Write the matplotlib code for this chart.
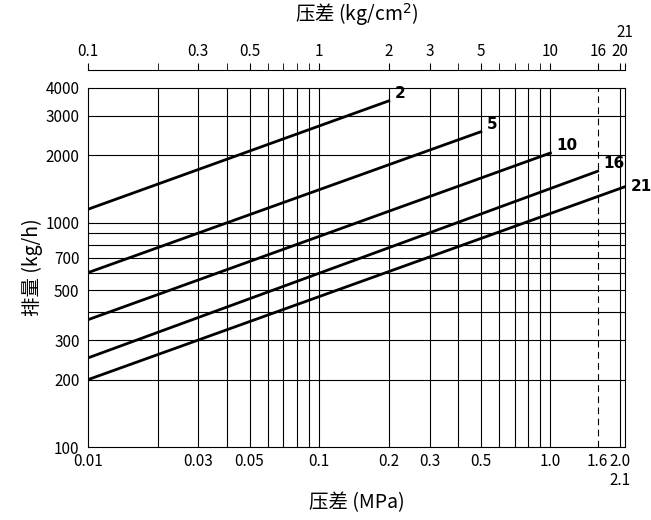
import numpy as np
import matplotlib.pyplot as plt
from matplotlib.ticker import NullFormatter, NullLocator

plt.rcParams['font.family'] = ['Noto Sans CJK SC', 'DejaVu Sans']

# pressure difference (MPa) and capacity (kg/h) at line ends
labels = ['2', '5', '10', '16', '21']
x_start = [0.01, 0.01, 0.01, 0.01, 0.01]
x_end = [0.2, 0.5, 1.0, 1.6, 2.1]
y_start = [1150, 600, 370, 250, 200]
y_end = [3500, 2550, 2050, 1700, 1450]

vgrid = [0.02, 0.03, 0.04, 0.05, 0.06, 0.07, 0.08, 0.09, 0.1,
         0.2, 0.3, 0.4, 0.5, 0.6, 0.7, 0.8, 0.9, 1.0, 2.0]
hgrid = [200, 300, 400, 500, 600, 700, 800, 900, 1000, 2000, 3000]
xticks = [0.01, 0.03, 0.05, 0.1, 0.2, 0.3, 0.5, 1.0, 1.6, 2.0]
xticklabels = ['0.01', '0.03', '0.05', '0.1', '0.2', '0.3', '0.5', '1.0', '1.6', '2.0\n2.1']
yticks = [100, 200, 300, 500, 700, 1000, 2000, 3000, 4000]

top_major = [0.1, 0.3, 0.5, 1, 2, 3, 5, 10, 16, 20, 21]
top_major_labels = ['0.1', '0.3', '0.5', '1', '2', '3', '5', '10', '16', '20', '21']
top_minor = [0.2, 0.4, 0.6, 0.7, 0.8, 0.9, 4, 6, 7, 8, 9]

fig = plt.figure(figsize=(6.51, 5.2), dpi=100)
ax = fig.add_axes([0.135, 0.14, 0.825, 0.691])
ax.set_xscale('log')
ax.set_yscale('log')
ax.set_xlim(0.01, 2.1)
ax.set_ylim(100, 4000)

for v in vgrid:
    ax.axvline(v, color='black', lw=0.8)
ax.axvline(1.6, color='black', lw=0.8, ls=(0, (6, 4)))
for h in hgrid:
    ax.axhline(h, color='black', lw=0.8)

for lab, x0, x1, y0, y1 in zip(labels, x_start, x_end, y_start, y_end):
    ax.plot([x0, x1], [y0, y1], color='black', lw=2)
    ax.text(x1 * 1.06, y1, lab, fontsize=11, fontweight='bold',
            family='DejaVu Sans', ha='left', va='bottom' if lab != '21' else 'center',
            clip_on=False)

ax.set_xticks(xticks)
ax.set_xticklabels(xticklabels)
ax.xaxis.set_minor_locator(NullLocator())
ax.xaxis.set_minor_formatter(NullFormatter())
ax.set_yticks(yticks)
ax.set_yticklabels([str(t) for t in yticks])
ax.yaxis.set_minor_locator(NullLocator())
ax.tick_params(length=0, labelsize=11)
ax.tick_params(axis='x', pad=4)
ax.tick_params(axis='y', pad=6)
ax.set_xlabel('压差 (MPa)', fontsize=14, labelpad=2)
ax.set_ylabel('排量 (kg/h)', fontsize=14, labelpad=2)

# top scale in kg/cm2
ax2 = fig.add_axes([0.135, 0.865, 0.825, 0.0])
ax2.set_xscale('log')
ax2.set_xlim(0.1, 21)
for s in ['bottom', 'left', 'right']:
    ax2.spines[s].set_visible(False)
ax2.set_yticks([])
ax2.xaxis.tick_top()
ax2.set_xticks(top_major)
ax2.set_xticklabels(top_major_labels)
ax2.set_xticks(top_minor, minor=True)
ax2.xaxis.set_minor_formatter(NullFormatter())
ax2.tick_params(which='both', direction='out', length=5, labelsize=11, pad=2)
ax2.xaxis.get_major_ticks()[-1].set_pad(16)
ax2.set_xlabel('压差 (kg/cm$^2$)', fontsize=14, labelpad=2)
ax2.xaxis.set_label_position('top')

fig.savefig('out.png', dpi=100)
